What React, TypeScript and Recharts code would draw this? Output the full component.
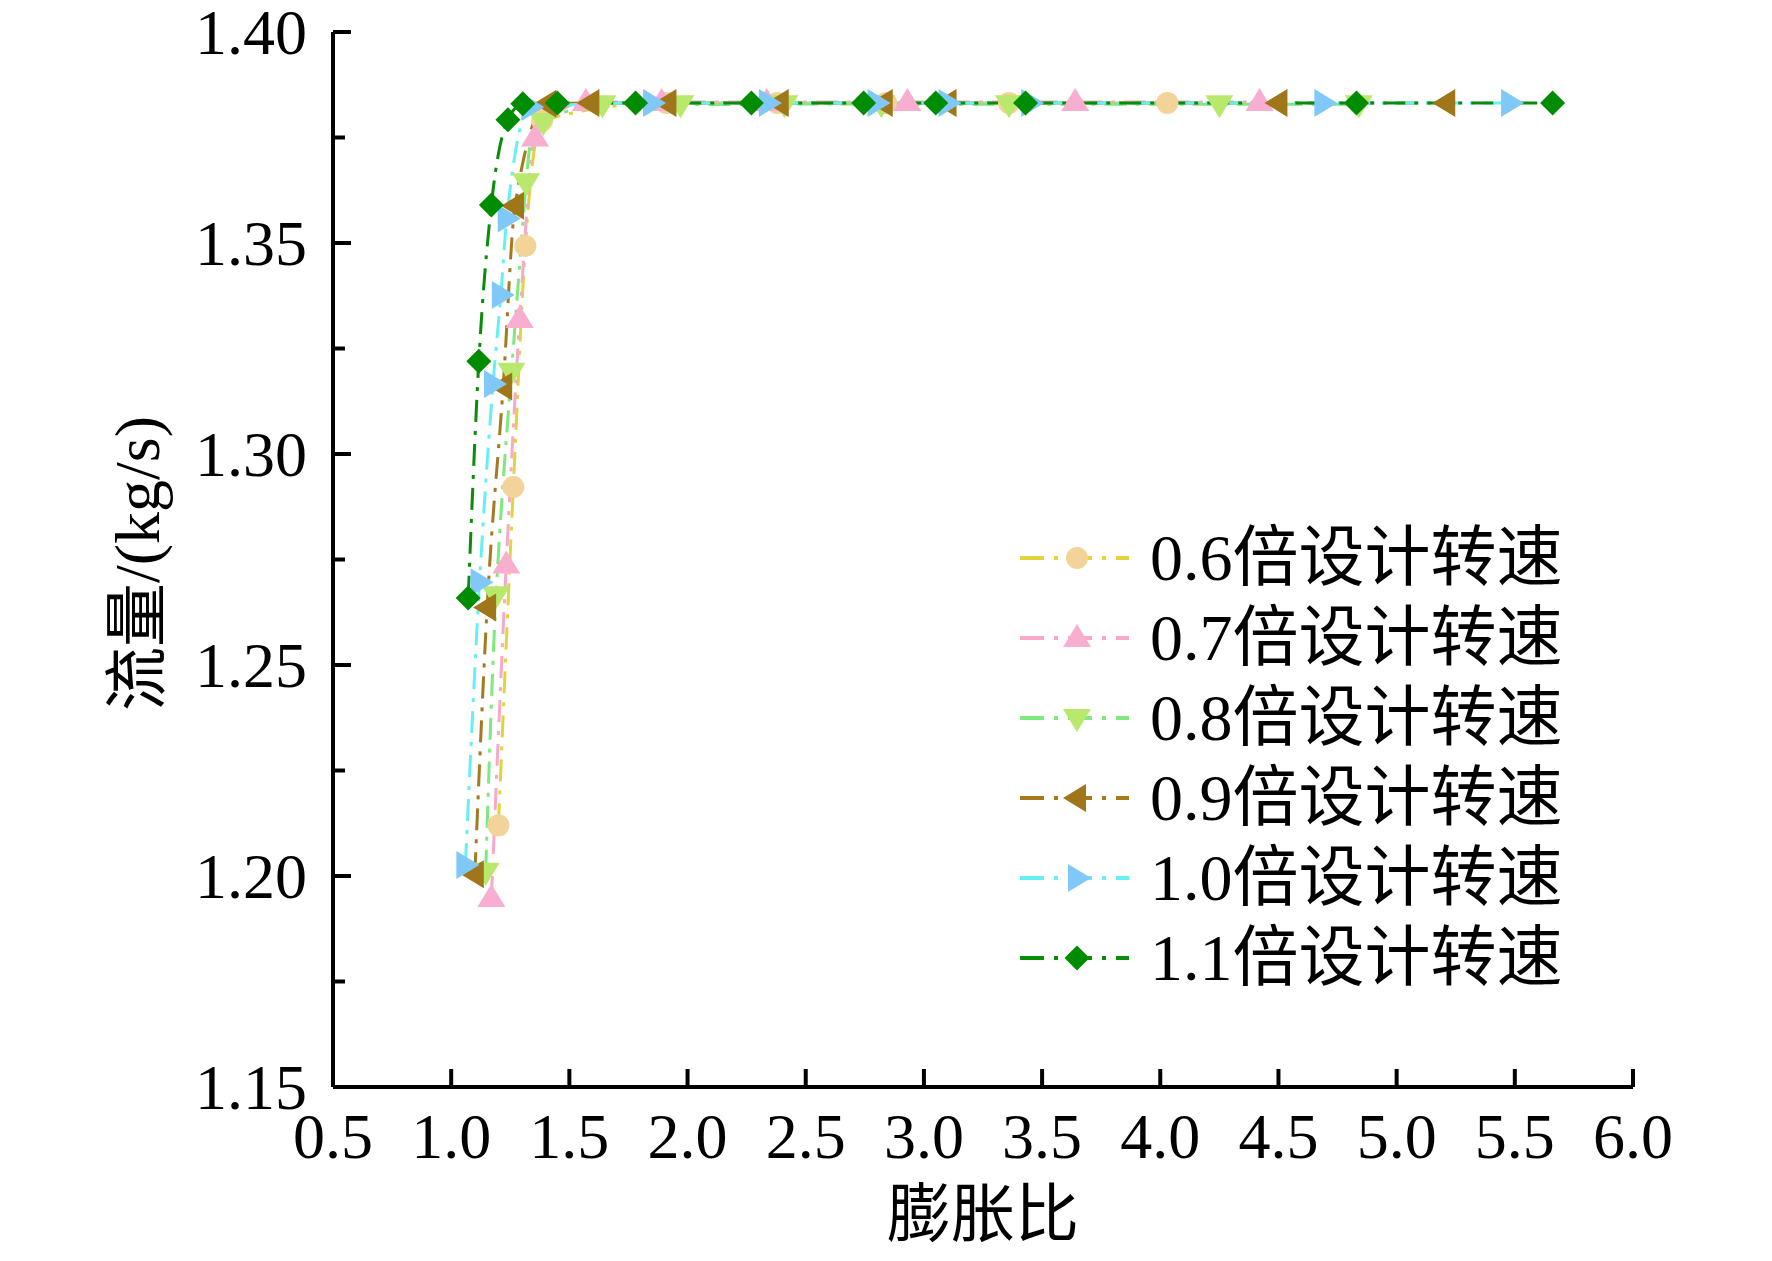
import * as React from 'react'
import { LineChart, Line, XAxis, YAxis, Legend } from 'recharts'

const FONT = "'Liberation Serif', 'Times New Roman', 'Noto Sans CJK SC', serif"

// 膨胀比 (x) and 流量 kg/s (y) per speed
const ratio06 = [1.2, 1.263, 1.314, 1.385, 1.91, 2.38, 2.84, 3.36, 4.03]
const flow06 = [1.212, 1.2922, 1.3493, 1.379, 1.3832, 1.3832, 1.3832, 1.3832, 1.3832]

const ratio07 = [1.17, 1.233, 1.29, 1.355, 1.57, 1.89, 2.335, 2.93, 3.64, 4.42]
const flow07 = [1.1948, 1.2738, 1.332, 1.375, 1.3834, 1.3834, 1.3834, 1.3834, 1.3834, 1.3834]

const ratio08 = [1.146, 1.19, 1.255, 1.317, 1.39, 1.64, 1.97, 2.41, 2.82, 3.36, 4.25, 4.84]
const flow08 = [1.201, 1.2665, 1.3195, 1.3644, 1.3787, 1.3829, 1.3829, 1.3829, 1.3829, 1.3829, 1.3829, 1.3829]

const ratio09 = [1.1, 1.152, 1.22, 1.27, 1.407, 1.589, 1.915, 2.39, 2.83, 3.1, 4.5, 5.21]
const flow09 = [1.2004, 1.2636, 1.316, 1.3588, 1.383, 1.3832, 1.3832, 1.3832, 1.3832, 1.3832, 1.3832, 1.3832]

const ratio10 = [1.06, 1.12, 1.177, 1.21, 1.235, 1.335, 1.85, 2.34, 2.8, 3.1, 3.45, 4.69, 5.48]
const flow10 = [1.2026, 1.2696, 1.3166, 1.3377, 1.3558, 1.3822, 1.3832, 1.3832, 1.3832, 1.3832, 1.3832, 1.3832, 1.3832]

const ratio11 = [1.072, 1.117, 1.17, 1.24, 1.303, 1.449, 1.78, 2.27, 2.745, 3.05, 3.43, 4.83, 5.66]
const flow11 = [1.2659, 1.322, 1.359, 1.3792, 1.383, 1.3832, 1.3832, 1.3832, 1.3832, 1.3832, 1.3832, 1.3832, 1.3832]

const speedNames = ['0.6倍设计转速', '0.7倍设计转速', '0.8倍设计转速', '0.9倍设计转速', '1.0倍设计转速', '1.1倍设计转速']

const xTicks = [0.5, 1.0, 1.5, 2.0, 2.5, 3.0, 3.5, 4.0, 4.5, 5.0, 5.5, 6.0]
const yMajorTicks = [1.15, 1.2, 1.25, 1.3, 1.35, 1.4]
const yMinorTicks = [1.175, 1.225, 1.275, 1.325, 1.375]

const toPoints = (xs: number[], ys: number[]) => xs.map((x, i) => ({ x, y: ys[i] }))

const series = [
  { name: speedNames[0], data: toPoints(ratio06, flow06), line: '#e2d43c', fill: '#f2d49a', shape: 'circle', curve: 'monotone' },
  { name: speedNames[1], data: toPoints(ratio07, flow07), line: '#f8a8c8', fill: '#f8aed0', shape: 'up', curve: 'monotone' },
  { name: speedNames[2], data: toPoints(ratio08, flow08), line: '#7fe87f', fill: '#b8e86c', shape: 'down', curve: 'natural' },
  { name: speedNames[3], data: toPoints(ratio09, flow09), line: '#a57a1e', fill: '#a0761a', shape: 'left', curve: 'monotone' },
  { name: speedNames[4], data: toPoints(ratio10, flow10), line: '#66f0f5', fill: '#80c8f8', shape: 'right', curve: 'monotone' },
  { name: speedNames[5], data: toPoints(ratio11, flow11), line: '#0a8c0a', fill: '#008c00', shape: 'diamond', curve: 'monotone' },
]

const DASH = '22 9 4 9'

function Marker({ shape, cx, cy, fill }: { shape: string; cx: number; cy: number; fill: string }) {
  if (cx == null || cy == null) return null
  switch (shape) {
    case 'circle':
      return <circle cx={cx} cy={cy} r={11} fill={fill} />
    case 'up':
      return <polygon points={`${cx},${cy - 14} ${cx - 14},${cy + 9} ${cx + 14},${cy + 9}`} fill={fill} />
    case 'down':
      return <polygon points={`${cx},${cy + 14} ${cx - 14},${cy - 9} ${cx + 14},${cy - 9}`} fill={fill} />
    case 'left':
      return <polygon points={`${cx - 14},${cy} ${cx + 9},${cy - 14} ${cx + 9},${cy + 14}`} fill={fill} />
    case 'right':
      return <polygon points={`${cx + 14},${cy} ${cx - 9},${cy - 14} ${cx - 9},${cy + 14}`} fill={fill} />
    default:
      return <polygon points={`${cx},${cy - 12.5} ${cx + 12.5},${cy} ${cx},${cy + 12.5} ${cx - 12.5},${cy}`} fill={fill} />
  }
}

const XTick = (props: any) => {
  const { x, y, payload } = props
  return (
    <g>
      <line x1={x} y1={y} x2={x} y2={y - 18} stroke="#000" strokeWidth={4} />
      <text x={x} y={y + 71} textAnchor="middle" fontSize={64} fontFamily={FONT} fill="#000">
        {Number(payload.value).toFixed(1)}
      </text>
    </g>
  )
}

const YTick = (props: any) => {
  const { x, y, payload } = props
  const v = Number(payload.value)
  const major = yMajorTicks.some((t) => Math.abs(t - v) < 1e-6)
  return (
    <g>
      <line x1={x} y1={y} x2={x + (major ? 18 : 12)} y2={y} stroke="#000" strokeWidth={4} />
      {major && (
        <text x={x - 26} y={y + 22} textAnchor="end" fontSize={64} fontFamily={FONT} fill="#000">
          {v.toFixed(2)}
        </text>
      )}
    </g>
  )
}

const renderLegend = (props: any) => {
  const { payload } = props
  return (
    <div>
      {(payload || []).map((entry: any) => {
        const s = series.find((d) => d.name === entry.value)
        if (!s) return null
        return (
          <div key={entry.value} style={{ display: 'flex', alignItems: 'center', height: 80 }}>
            <svg width={130} height={40} style={{ flex: 'none' }}>
              <line x1={0} y1={20} x2={109} y2={20} stroke={s.line} strokeWidth={4} strokeDasharray="24 10 4 10" />
              <Marker shape={s.shape} cx={57} cy={20} fill={s.fill} />
            </svg>
            <span style={{ fontSize: 66, lineHeight: 1, whiteSpace: 'nowrap', fontFamily: FONT, color: '#000' }}>
              {entry.value}
            </span>
          </div>
        )
      })}
    </div>
  )
}

export default function App() {
  return (
    <LineChart width={1756} height={1245} margin={{ top: 24, right: 131, bottom: 0, left: 0 }}>
      <XAxis
        dataKey="x"
        type="number"
        domain={[0.5, 6.0]}
        ticks={xTicks}
        interval={0}
        tickSize={0}
        tickMargin={0}
        tickLine={false}
        height={166}
        axisLine={{ stroke: '#000', strokeWidth: 4 }}
        tick={<XTick />}
        label={{
          content: (p: any) => {
            const vb = p.viewBox || { x: 325, width: 1300 }
            return (
              <text x={vb.x + vb.width / 2} y={1228} textAnchor="middle" fontSize={64} fontFamily={FONT} fill="#000">
                膨胀比
              </text>
            )
          },
        }}
      />
      <YAxis
        type="number"
        domain={[1.15, 1.4]}
        ticks={[...yMajorTicks, ...yMinorTicks].sort((a, b) => a - b)}
        interval={0}
        tickSize={0}
        tickMargin={0}
        tickLine={false}
        width={325}
        axisLine={{ stroke: '#000', strokeWidth: 4 }}
        tick={<YTick />}
        label={{
          content: (p: any) => {
            const vb = p.viewBox || { y: 24, height: 1055 }
            const cy = vb.y + vb.height / 2 + 4
            return (
              <text
                x={129}
                y={cy}
                transform={`rotate(-90 129 ${cy})`}
                textAnchor="middle"
                dominantBaseline="central"
                fontSize={64}
                fontFamily={FONT}
                fill="#000"
              >
                流量/(kg/s)
              </text>
            )
          },
        }}
      />
      <Legend
        layout="horizontal"
        align="center"
        verticalAlign="middle"
        content={renderLegend}
        wrapperStyle={{ left: 1012, top: 509.5, width: 620, height: 480 }}
      />
      {series.map((s) => (
        <Line
          key={s.name}
          name={s.name}
          data={s.data}
          dataKey="y"
          type={s.curve as any}
          stroke={s.line}
          strokeWidth={3}
          strokeDasharray={DASH}
          isAnimationActive={false}
          activeDot={false}
          dot={(p: any) => (
            <Marker key={`${s.name}-${p.index}`} shape={s.shape} cx={p.cx} cy={p.cy} fill={s.fill} />
          )}
        />
      ))}
    </LineChart>
  )
}
